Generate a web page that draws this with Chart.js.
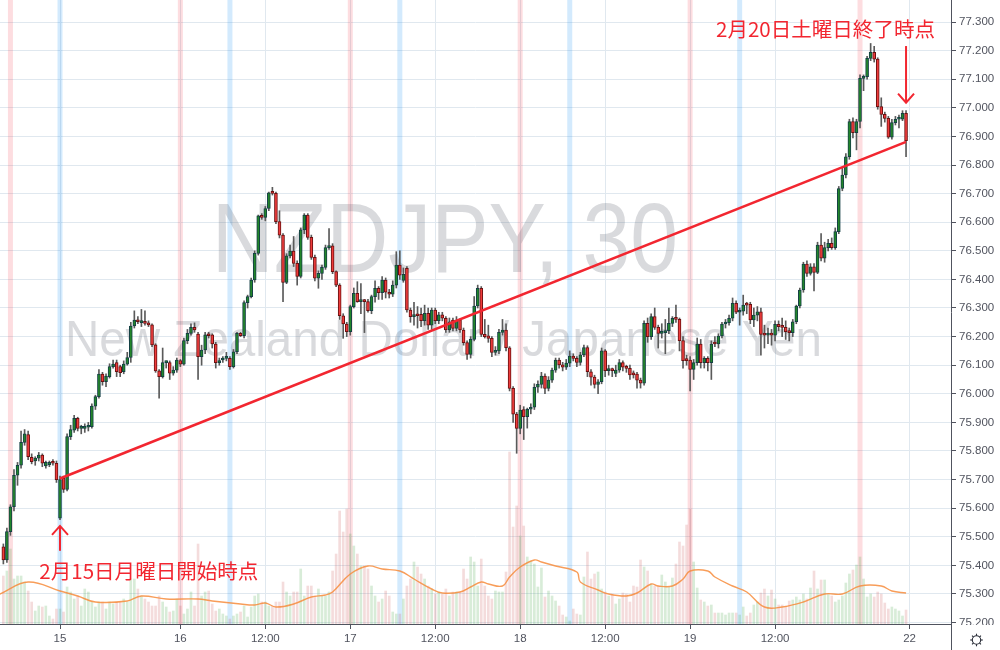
<!DOCTYPE html>
<html><head><meta charset="utf-8">
<script src="https://cdn.jsdelivr.net/npm/chart.js@4.4.0/dist/chart.umd.min.js"></script>
<style>html,body{margin:0;padding:0;background:#fff;}canvas{display:block;}</style>
</head><body>
<canvas id="c" width="1000" height="650"></canvas>
<script>
// ---- DATA (30-minute candles, index 0 = first bar on screen) ----
const openP = [75.465,75.419,75.518,75.605,75.715,75.750,75.830,75.857,75.778,75.765,
75.775,75.786,75.748,75.752,75.762,75.757,75.565,75.705,75.666,75.850,
75.873,75.914,75.879,75.879,75.883,75.885,75.957,75.990,76.069,76.042,
76.060,76.095,76.109,76.095,76.077,76.104,76.127,76.237,76.258,76.249,
76.252,76.246,76.241,76.171,76.080,76.060,76.109,76.109,76.072,76.083,
76.116,76.104,76.186,76.211,76.232,76.209,76.130,76.153,76.206,76.206,
76.174,76.109,76.118,76.124,76.124,76.095,76.147,76.211,76.203,76.319,
76.340,76.398,76.491,76.622,76.617,76.648,76.703,76.701,76.602,76.555,
76.389,76.482,76.499,76.456,76.410,76.573,76.625,76.547,76.477,76.404,
76.421,76.442,76.511,76.517,76.427,76.380,76.273,76.244,76.217,76.305,
76.351,76.322,76.325,76.322,76.291,76.340,76.369,76.354,76.398,76.355,
76.348,76.380,76.450,76.396,76.439,76.293,76.270,76.275,76.278,76.256,
76.281,76.240,76.293,76.256,76.276,76.264,76.223,76.258,76.229,76.258,
76.223,76.179,76.138,76.190,76.307,76.369,76.208,76.203,76.194,76.145,
76.150,76.215,76.223,76.161,76.019,75.929,75.879,75.945,75.920,75.946,
75.953,76.023,76.033,76.062,76.019,76.048,76.083,76.118,76.101,76.093,
76.107,76.132,76.124,76.110,76.136,76.162,76.077,76.058,76.033,76.042,
76.150,76.081,76.083,76.071,76.083,76.109,76.093,76.089,76.069,76.069,
76.048,76.037,76.246,76.200,76.270,76.232,76.211,76.214,76.221,76.246,
76.264,76.260,76.186,76.118,76.118,76.085,76.109,76.174,76.109,76.124,
76.109,76.178,76.174,76.202,76.244,76.249,76.264,76.316,76.285,76.289,
76.313,76.313,76.258,76.275,76.287,76.208,76.205,76.208,76.205,76.243,
76.235,76.232,76.217,76.214,76.252,76.307,76.363,76.454,76.421,76.444,
76.424,76.520,76.474,76.511,76.526,76.511,76.567,76.718,76.765,76.829,
76.952,76.913,76.952,77.103,77.109,77.173,77.194,77.170,77.004,76.977,
76.963,76.897,76.948,76.960,76.960,76.981];

const highP = [75.475,75.530,75.612,75.735,75.760,75.870,75.875,75.870,75.790,75.780,
75.795,75.790,75.765,75.765,75.770,75.765,75.712,75.712,75.860,75.890,
75.925,75.918,75.890,75.895,75.900,75.965,75.995,76.085,76.075,76.070,
76.105,76.118,76.118,76.100,76.115,76.145,76.250,76.290,76.270,76.295,
76.290,76.255,76.245,76.175,76.085,76.160,76.115,76.115,76.095,76.125,
76.120,76.195,76.225,76.245,76.248,76.215,76.170,76.215,76.215,76.210,
76.180,76.125,76.130,76.145,76.130,76.155,76.215,76.215,76.325,76.345,
76.405,76.500,76.625,76.630,76.655,76.705,76.722,76.705,76.640,76.560,
76.490,76.520,76.550,76.465,76.580,76.630,76.630,76.555,76.485,76.430,
76.450,76.520,76.578,76.525,76.430,76.385,76.280,76.250,76.310,76.370,
76.392,76.385,76.330,76.330,76.345,76.395,76.375,76.410,76.405,76.365,
76.395,76.497,76.500,76.440,76.445,76.300,76.320,76.305,76.300,76.310,
76.300,76.300,76.300,76.285,76.285,76.270,76.265,76.265,76.270,76.262,
76.230,76.185,76.200,76.340,76.380,76.375,76.260,76.240,76.200,76.165,
76.225,76.260,76.245,76.165,76.025,75.935,75.960,75.955,75.950,75.965,
76.035,76.045,76.075,76.070,76.060,76.090,76.125,76.125,76.110,76.120,
76.150,76.140,76.130,76.145,76.170,76.168,76.085,76.065,76.050,76.160,
76.155,76.100,76.090,76.100,76.120,76.115,76.100,76.100,76.080,76.075,
76.055,76.255,76.265,76.280,76.300,76.240,76.245,76.260,76.300,76.270,
76.310,76.265,76.200,76.135,76.130,76.120,76.195,76.190,76.130,76.130,
76.185,76.200,76.210,76.250,76.260,76.275,76.335,76.325,76.300,76.345,
76.320,76.320,76.300,76.305,76.300,76.240,76.230,76.225,76.255,76.255,
76.265,76.255,76.230,76.260,76.310,76.370,76.460,76.465,76.455,76.455,
76.530,76.560,76.530,76.540,76.545,76.580,76.725,76.790,76.840,76.960,
76.965,76.960,77.115,77.115,77.180,77.225,77.215,77.175,77.035,76.985,
76.970,76.960,76.970,76.975,76.990,76.990];

const lowP = [75.405,75.410,75.505,75.590,75.680,75.740,75.820,75.770,75.755,75.750,
75.765,75.745,75.740,75.745,75.750,75.690,75.560,75.655,75.660,75.840,
75.865,75.870,75.860,75.865,75.870,75.880,75.945,75.985,76.030,76.025,
76.055,76.090,76.060,76.060,76.070,76.100,76.110,76.230,76.245,76.235,
76.240,76.235,76.165,76.075,75.985,76.055,76.090,76.050,76.065,76.075,
76.095,76.100,76.175,76.205,76.215,76.050,76.100,76.140,76.195,76.160,
76.090,76.100,76.110,76.115,76.085,76.090,76.140,76.200,76.195,76.300,
76.335,76.390,76.485,76.610,76.605,76.640,76.695,76.595,76.545,76.322,
76.385,76.475,76.445,76.380,76.405,76.560,76.540,76.470,76.395,76.369,
76.400,76.435,76.505,76.420,76.375,76.260,76.194,76.200,76.205,76.300,
76.320,76.280,76.214,76.285,76.280,76.320,76.330,76.330,76.335,76.335,
76.340,76.370,76.400,76.390,76.285,76.250,76.240,76.230,76.235,76.240,
76.225,76.225,76.245,76.245,76.255,76.215,76.215,76.220,76.220,76.215,
76.170,76.120,76.125,76.185,76.300,76.200,76.195,76.180,76.130,76.135,
76.140,76.205,76.150,76.010,75.900,75.792,75.860,75.840,75.880,75.930,
75.945,76.005,76.020,76.000,76.010,76.040,76.075,76.090,76.080,76.085,
76.095,76.115,76.095,76.100,76.130,76.060,76.030,76.020,76.000,76.035,
76.060,76.065,76.060,76.060,76.075,76.080,76.075,76.050,76.055,76.020,
76.020,76.030,76.180,76.190,76.225,76.160,76.195,76.140,76.210,76.235,
76.250,76.150,76.090,76.100,76.010,76.050,76.100,76.090,76.090,76.080,
76.050,76.165,76.160,76.195,76.230,76.240,76.255,76.280,76.240,76.275,
76.280,76.245,76.235,76.255,76.135,76.160,76.175,76.170,76.185,76.220,
76.200,76.190,76.185,76.200,76.245,76.300,76.355,76.410,76.415,76.360,
76.420,76.465,76.460,76.500,76.505,76.505,76.560,76.710,76.755,76.820,
76.895,76.853,76.930,77.060,77.100,77.165,77.160,76.995,76.935,76.950,
76.893,76.890,76.940,76.930,76.955,76.829];

const closeP = [75.419,75.518,75.605,75.715,75.750,75.830,75.860,75.780,75.763,75.775,
75.786,75.757,75.760,75.760,75.757,75.700,75.700,75.666,75.850,75.875,
75.914,75.879,75.883,75.883,75.888,75.957,75.990,76.069,76.042,76.062,
76.095,76.104,76.077,76.074,76.104,76.127,76.237,76.258,76.252,76.252,
76.246,76.241,76.171,76.080,76.060,76.109,76.109,76.072,76.083,76.118,
76.104,76.186,76.211,76.232,76.223,76.130,76.153,76.206,76.203,76.174,
76.109,76.112,76.124,76.124,76.095,76.147,76.211,76.203,76.319,76.340,
76.398,76.491,76.622,76.617,76.648,76.703,76.701,76.602,76.555,76.389,
76.482,76.499,76.456,76.410,76.573,76.625,76.547,76.477,76.404,76.421,
76.442,76.511,76.517,76.427,76.380,76.273,76.244,76.217,76.305,76.351,
76.322,76.325,76.322,76.291,76.340,76.369,76.354,76.398,76.355,76.348,
76.380,76.450,76.415,76.418,76.293,76.270,76.272,76.273,76.256,76.281,
76.240,76.293,76.256,76.276,76.264,76.223,76.252,76.229,76.258,76.223,
76.179,76.138,76.190,76.307,76.369,76.208,76.200,76.194,76.145,76.150,
76.215,76.223,76.161,76.019,75.929,75.879,75.943,75.920,75.946,75.953,
76.023,76.033,76.062,76.019,76.048,76.083,76.118,76.101,76.093,76.107,
76.132,76.124,76.110,76.136,76.162,76.077,76.058,76.033,76.042,76.150,
76.081,76.083,76.081,76.083,76.109,76.093,76.089,76.066,76.066,76.048,
76.037,76.246,76.200,76.270,76.232,76.211,76.214,76.221,76.246,76.264,
76.260,76.186,76.116,76.116,76.085,76.109,76.174,76.109,76.124,76.109,
76.174,76.174,76.202,76.244,76.249,76.264,76.316,76.285,76.289,76.310,
76.310,76.258,76.275,76.287,76.208,76.205,76.208,76.205,76.243,76.235,
76.232,76.217,76.214,76.252,76.307,76.363,76.454,76.421,76.444,76.424,
76.520,76.474,76.511,76.526,76.511,76.567,76.718,76.765,76.829,76.952,
76.913,76.952,77.103,77.109,77.173,77.194,77.170,77.004,76.977,76.963,
76.897,76.948,76.960,76.961,76.981,76.885];

const volume = [48,53,75,45,48,48,42,33,22,13,
18,17,18,8,5,15,15,12,37,32,
25,28,18,35,32,22,17,22,22,15,
22,20,22,22,25,22,45,45,35,28,
25,22,18,18,28,22,17,12,13,25,
18,10,15,32,18,80,28,32,33,20,
13,15,10,8,5,8,10,12,18,7,
17,28,30,22,22,18,18,22,22,42,
32,28,32,32,55,28,38,38,28,35,
28,28,32,53,70,113,92,115,90,78,
70,58,58,55,38,28,22,25,33,28,
12,10,10,25,38,45,62,57,50,45,
38,35,30,32,30,35,28,32,32,32,
55,45,67,62,38,65,38,28,25,33,
32,32,52,172,97,118,88,98,67,63,
60,37,56,27,33,28,23,18,9,7,
3,15,10,9,47,72,45,50,52,35,
32,28,30,20,25,31,30,22,38,37,
64,57,53,40,38,38,49,42,37,46,
60,82,78,99,115,62,36,24,22,18,
19,11,11,11,9,11,11,11,9,17,
8,11,19,22,31,35,28,34,25,19,
19,18,23,24,27,24,30,25,36,53,
35,44,44,30,28,22,24,28,41,50,
54,59,67,45,27,30,27,32,30,21,
15,17,15,13,8,14];

// volume moving average, read at these bar indices
const maIdx = [-1,7,16,21,26,35,39,46,55,59,67,71,74,77,82,87,91,93,98,103,107,112,116,121,124,129,132,135,137,141,143,146,150,152,156,162,163,168,171,176,179,183,185,189,192,194,199,201,206,210,215,220,226,232,237,242,248,251,255];
const maVal = [30,42,33,28,22,23,28,25,25,23,20,19,21,17,20,27,29,32,50,58,55,53,45,35,31,32,37,42,40,38,47,57,64,62,58,52,42,34,30,28,31,40,38,38,45,53,53,47,38,32,17,17,22,30,30,38,38,33,31];

// time axis labels (bar index -> label)
const tickIdx = [16,50,74,98,122,146,170,194,218,256];
const tickLabels = ['15','16','12:00','17','12:00','18','12:00','19','12:00','22'];
const priceTicks = [75.2,75.3,75.4,75.5,75.6,75.7,75.8,75.9,76.0,76.1,76.2,76.3,76.4,76.5,76.6,76.7,76.8,76.9,77.0,77.1,77.2,77.3];

// session markers
const dayStartBands = [2,50,98,146,194,242];
const sessionOpenBands = [16,64,112,160,208];

// trend line (Mon open -> Sat close)
const trendIdx = [16,255];
const trendVal = [75.704,76.881];

// annotations
const notes = [
  {text:'2月15日月曜日開始時点', ci:41.1, cv:75.380, ai:16, aFrom:75.451, aTo:75.538},
  {text:'2月20日土曜日終了時点', ci:232.25, cv:77.2755, ai:255, aFrom:77.216, aTo:77.018}
];

// ---- CHART ----
const N = openP.length;
const idx = Array.from({length:N}, (_, i) => i);
const isUp = idx.map(i => closeP[i] >= openP[i]);
const RED = 'rgb(242,38,48)';

const bgPlugin = {
  id:'bg',
  beforeDatasetsDraw(chart){
    const {ctx, chartArea:a, scales:{x}} = chart;
    ctx.save();
    ctx.beginPath(); ctx.rect(a.left, a.top, a.width, a.height); ctx.clip();
    ctx.fillStyle = 'rgba(242,54,69,0.17)';
    dayStartBands.forEach(i => { const px = x.getPixelForValue(i); ctx.fillRect(px-2.5, a.top, 5, a.height); });
    ctx.fillStyle = 'rgba(33,150,243,0.2)';
    sessionOpenBands.forEach(i => { const px = x.getPixelForValue(i); ctx.fillRect(px-2.5, a.top, 5, a.height); });
    // watermark
    ctx.fillStyle = 'rgba(80,86,98,0.22)';
    const fit = (txt, left, right, base, size) => {
      ctx.font = size + 'px "Liberation Sans", Arial, sans-serif';
      const w = ctx.measureText(txt).width;
      ctx.save(); ctx.translate(left, base); ctx.scale((right-left)/w, 1);
      ctx.textBaseline = 'alphabetic'; ctx.textAlign = 'left';
      ctx.fillText(txt, 0, 0); ctx.restore();
    };
    fit('NZDJPY, 30', 211.7, 678, 271.7, 98);
    fit('New Zealand Dollar / Japanese Yen', 65, 822, 356, 50);
    ctx.restore();
  },
  afterDatasetsDraw(chart){
    const {ctx, scales:{x, y}} = chart;
    ctx.save();
    ctx.strokeStyle = RED; ctx.fillStyle = RED; ctx.lineWidth = 2; ctx.lineCap = 'butt';
    notes.forEach(n => {
      const ax = x.getPixelForValue(n.ai);
      const y0 = y.getPixelForValue(n.aFrom), y1 = y.getPixelForValue(n.aTo);
      const dir = y1 < y0 ? 1 : -1;
      ctx.beginPath(); ctx.moveTo(ax, y0); ctx.lineTo(ax, y1); ctx.stroke();
      ctx.beginPath(); ctx.moveTo(ax-8, y1 + dir*9); ctx.lineTo(ax, y1); ctx.lineTo(ax+8, y1 + dir*9); ctx.stroke();
      ctx.font = '20px "Noto Sans CJK JP", sans-serif';
      const w = ctx.measureText(n.text).width;
      const cx = x.getPixelForValue(n.ci), cy = y.getPixelForValue(n.cv);
      ctx.save(); ctx.translate(cx, cy); ctx.scale(219/w, 1);
      ctx.textAlign = 'center'; ctx.textBaseline = 'middle';
      ctx.fillText(n.text, 0, 0); ctx.restore();
    });
    ctx.restore();
  },
  afterDraw(chart){
    const {ctx, chartArea:a} = chart;
    ctx.save();
    ctx.fillStyle = '#fff';
    ctx.fillRect(a.right+1, a.bottom+1, 1000-a.right, 650-a.bottom);
    ctx.strokeStyle = '#50535e'; ctx.lineWidth = 1;
    ctx.beginPath(); ctx.moveTo(a.right+0.5, a.bottom); ctx.lineTo(a.right+0.5, 650); ctx.stroke();
    // settings gear
    const gx = 976.5, gy = 640;
    ctx.strokeStyle = '#2a2e39'; ctx.lineWidth = 1.1;
    ctx.beginPath(); ctx.arc(gx, gy, 4.2, 0, Math.PI*2); ctx.stroke();
    for (let k = 0; k < 8; k++) {
      const t = k*Math.PI/4;
      ctx.beginPath(); ctx.moveTo(gx+Math.cos(t)*4.2, gy+Math.sin(t)*4.2);
      ctx.lineTo(gx+Math.cos(t)*6.3, gy+Math.sin(t)*6.3); ctx.stroke();
    }
    ctx.restore();
  }
};

const tickFont = {family:'"Liberation Sans", Arial, sans-serif', size:11.5};

new Chart(document.getElementById('c'), {
  type:'bar',
  data:{
    datasets:[
      {type:'bar', data: idx.map(i => ({x:i, y:volume[i]})), yAxisID:'yv',
       backgroundColor: idx.map(i => isUp[i] ? 'rgba(60,160,60,0.2)' : 'rgba(200,80,80,0.2)'),
       barThickness:2, grouped:false, order:10},
      {type:'line', data: maIdx.map((v,k) => ({x:v, y:maVal[k]})), yAxisID:'yv',
       borderColor:'rgba(247,140,60,0.85)', borderWidth:1.4, pointRadius:0, tension:0.4, order:9},
      {type:'bar', data: idx.map(i => ({x:i, y:[lowP[i], highP[i]]})), yAxisID:'y',
       backgroundColor:'#5a5a5a', barThickness:1, grouped:false, order:3},
      {type:'bar', data: idx.map(i => ({x:i, y:[Math.min(openP[i],closeP[i]), Math.max(openP[i],closeP[i])]})), yAxisID:'y',
       backgroundColor: idx.map(i => isUp[i] ? '#23862a' : '#ee3b3b'),
       borderColor: idx.map(i => isUp[i] ? '#143f45' : '#6a1010'),
       borderWidth:1, borderSkipped:false, barThickness:3, minBarLength:2, grouped:false, order:2},
      {type:'line', data: trendIdx.map((v,k) => ({x:v, y:trendVal[k]})), yAxisID:'y',
       borderColor:RED, borderWidth:2.6, pointRadius:0, order:1}
    ]
  },
  options:{
    responsive:false, devicePixelRatio:1, animation:false, events:[],
    layout:{padding:0},
    plugins:{legend:{display:false}, tooltip:{enabled:false}},
    scales:{
      x:{type:'linear', position:'bottom', min:-0.95, max:267.7, offset:false,
         afterBuildTicks: s => { s.ticks = tickIdx.map(v => ({value:v})); },
         afterFit: s => { s.height = 26; s.paddingLeft = 0; s.paddingRight = 0; },
         ticks:{autoSkip:false, maxRotation:0, color:'#50535e', font:tickFont, padding:3,
                callback:(v, i) => tickLabels[i]},
         grid:{offset:false, color:'#e0e8ef', lineWidth:1, drawTicks:true, tickLength:5, tickColor:'#50535e'},
         border:{display:true, color:'#50535e'}},
      y:{type:'linear', position:'right', min:75.195, max:77.377,
         afterBuildTicks: s => { s.ticks = priceTicks.map(v => ({value:v})); },
         afterFit: s => { s.width = 49; s.paddingTop = 0; s.paddingBottom = 0; },
         ticks:{color:'#50535e', font:tickFont, padding:3, callback: v => v.toFixed(3)},
         grid:{color:'#e0e8ef', lineWidth:1, drawTicks:true, tickLength:5, tickColor:'#50535e'},
         border:{display:true, color:'#50535e'}},
      yv:{type:'linear', display:false, min:0, max:624}
    }
  },
  plugins:[bgPlugin]
});
</script>
</body></html>
